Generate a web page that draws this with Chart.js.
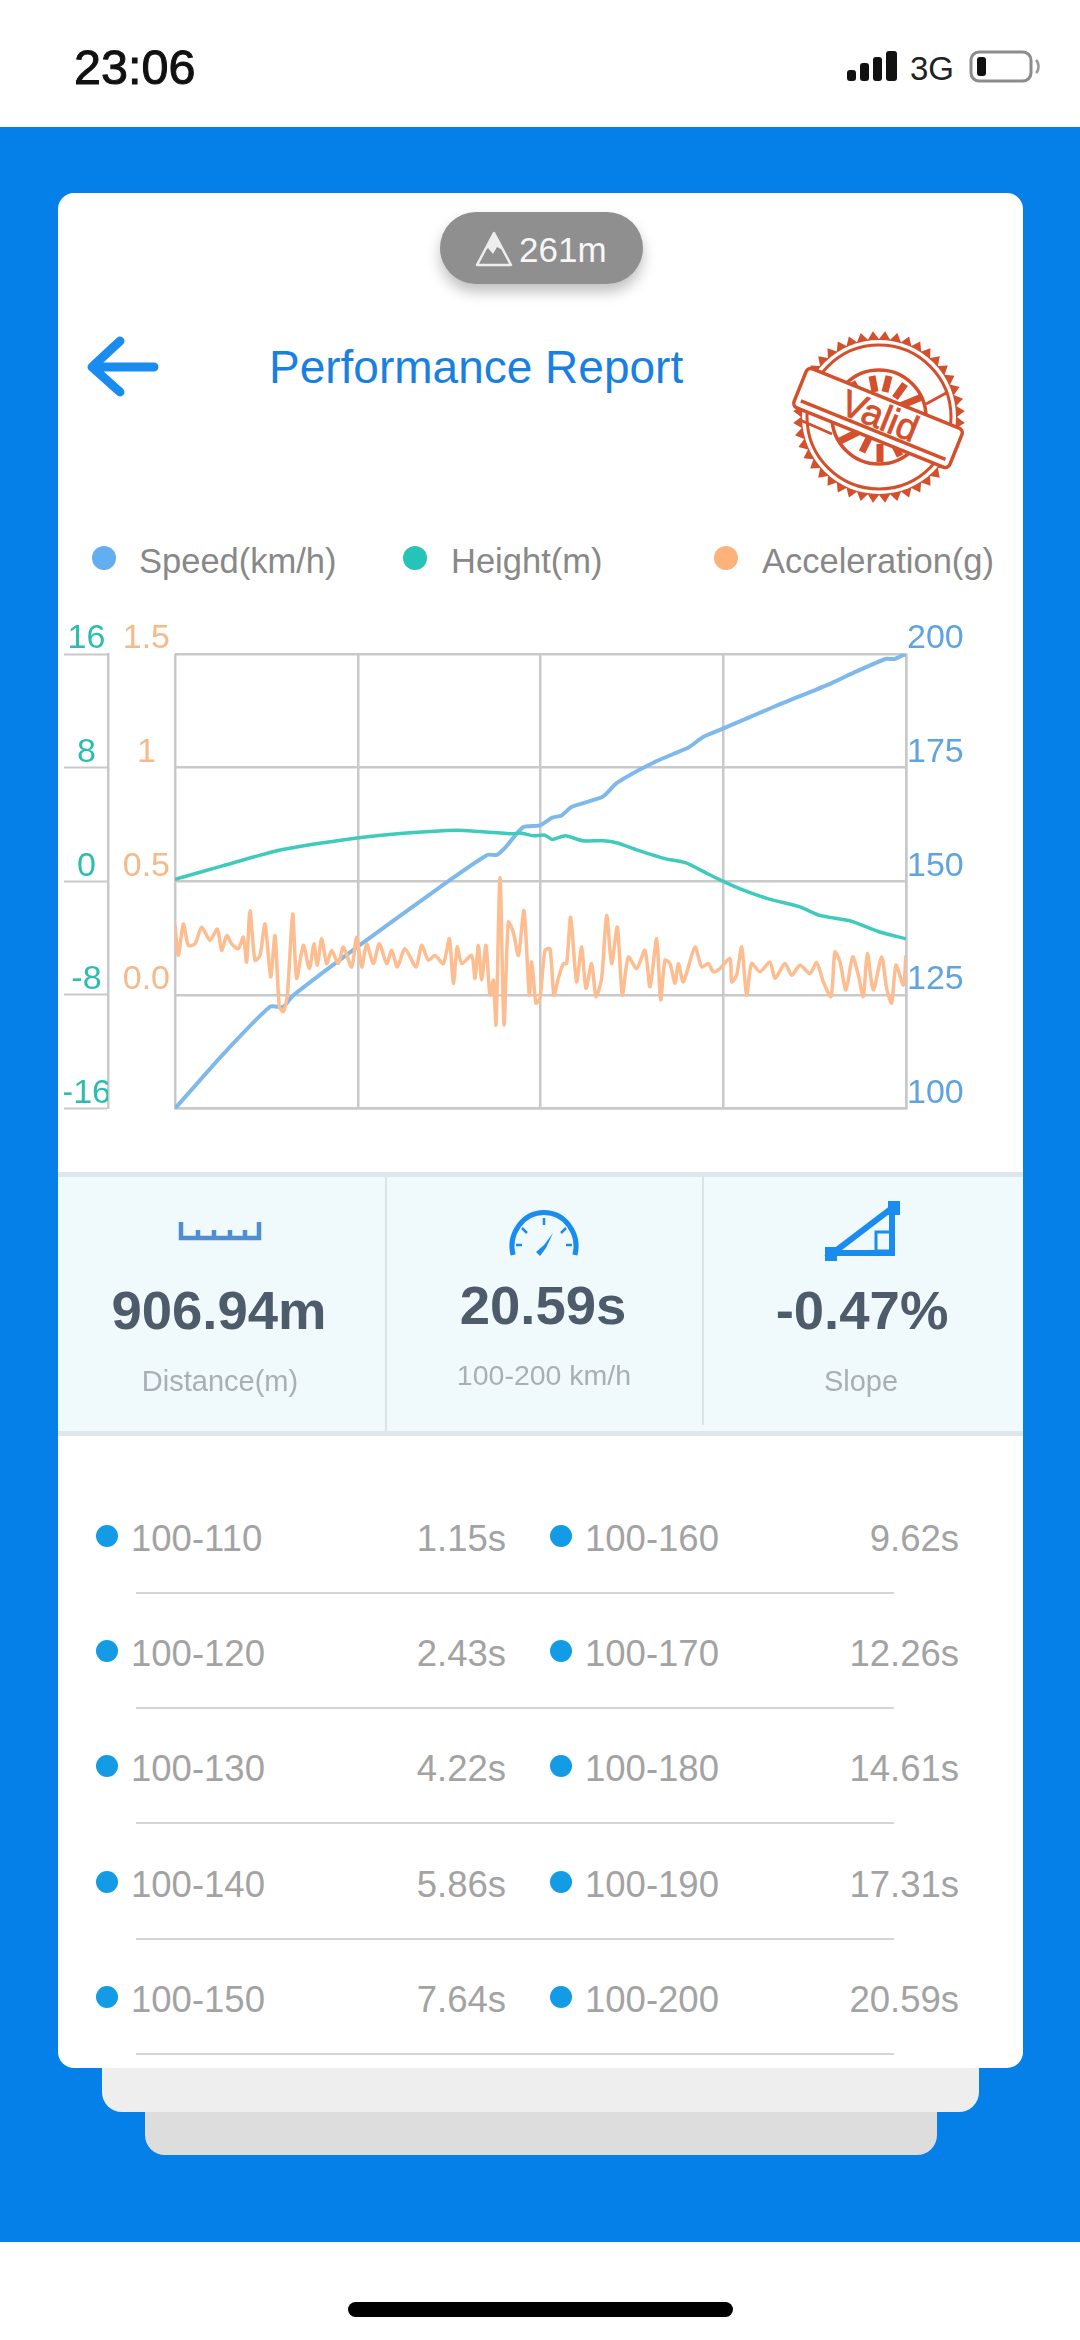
<!DOCTYPE html>
<html>
<head>
<meta charset="utf-8">
<script src="https://cdn.jsdelivr.net/npm/chart.js@4"></script>
<style>
html, body { margin: 0; padding: 0; background: #fff; }
body { width: 1080px; height: 2340px; position: relative; overflow: hidden; font-family: "Liberation Sans", Arial, sans-serif; }
.box { position: absolute; }
.t { position: absolute; white-space: nowrap; line-height: 1; transform: translateY(-50%); }
.c { transform: translate(-50%, -50%); }
.r { transform: translate(-100%, -50%); }
.dot { position: absolute; border-radius: 50%; transform: translate(-50%, -50%); }
svg { position: absolute; overflow: visible; }
</style>
</head>
<body>

<!-- status bar -->
<div class="t" style="left:74px;top:67px;font-size:48.5px;color:#111;-webkit-text-stroke:1px #111">23:06</div>
<svg style="left:0;top:0" width="1080" height="127">
  <rect x="847" y="70" width="9" height="11" rx="3" fill="#111"/>
  <rect x="860" y="63" width="9" height="18" rx="3" fill="#111"/>
  <rect x="873" y="57" width="9" height="24" rx="3" fill="#111"/>
  <rect x="886" y="51" width="11" height="30" rx="3" fill="#111"/>
  <rect x="971" y="52" width="60" height="29" rx="8" fill="#fff" stroke="#8c8c8c" stroke-width="3"/>
  <rect x="977" y="57" width="9" height="19" rx="3" fill="#111"/>
  <path d="M1036 60 a6 8 0 0 1 0 13" fill="none" stroke="#999" stroke-width="2.5"/>
</svg>
<div class="t" style="left:910px;top:68px;font-size:33px;color:#222">3G</div>

<!-- blue background and stacked cards -->
<div class="box" style="left:0;top:127px;width:1080px;height:2115px;background:#0580e8"></div>
<div class="box" style="left:145px;top:2080px;width:792px;height:75px;background:#dddddd;border-radius:0 0 20px 20px"></div>
<div class="box" style="left:102px;top:2040px;width:877px;height:72px;background:#eeeeee;border-radius:0 0 20px 20px"></div>
<div class="box" style="left:58px;top:193px;width:965px;height:1875px;background:#fff;border-radius:16px"></div>

<!-- altitude pill -->
<div class="box" style="left:440px;top:212px;width:203px;height:72px;background:#8f8f8f;border-radius:36px;box-shadow:0 8px 14px rgba(0,0,0,.25)"></div>
<svg style="left:0;top:0" width="1080" height="300">
  <path d="M494 233 L511 265 L477 265 Z" fill="none" stroke="#eee" stroke-width="2.5" stroke-linejoin="round"/>
  <path d="M494 233 L503 250 L497 247 L493 254 L488 248 L485 250 Z" fill="#eee"/>
</svg>
<div class="t" style="left:519px;top:249px;font-size:35px;color:#f6f6f6">261m</div>

<!-- header -->
<svg style="left:0;top:0" width="300" height="420">
  <path d="M120 341 L92 367 L120 392 M94 367 L154 367" fill="none" stroke="#1a8cf0" stroke-width="9" stroke-linecap="round" stroke-linejoin="round"/>
</svg>
<div class="t" style="left:269px;top:367px;font-size:46px;color:#1a80e0">Performance Report</div>

<!-- stamp -->
<svg style="left:0;top:0" width="1080" height="520" fill="none">
  <polygon id="stampTeeth" fill="#d4502c"/>
  <circle cx="879" cy="417" r="77" fill="#fff"/>
  <g stroke="#d4502c">
    <circle cx="879" cy="417" r="72" stroke-width="3"/>
    <circle cx="879" cy="417" r="47" stroke-width="3.5"/>
    <path d="M872 376L875 392M889 376L885 392M905 384L895 398M852 382L862 398M922 397L900 406M838 442L858 432M862 452L869 438M880 462L880 444M900 456L892 440" stroke-width="7"/>
    <path d="M832 434L800 420M926 404L948 392M824 418L850 426M910 440L928 452" stroke-width="3"/>
    <g transform="rotate(22 878 418)">
      <rect x="794" y="397" width="168" height="42" fill="#fff" stroke-width="3.5" rx="5"/>
      <path d="M800 431H956" stroke-width="3.5"/>
    </g>
  </g>
  <text x="879" y="428" text-anchor="middle" transform="rotate(22 878 418)" fill="#d4502c" stroke="#d4502c" stroke-width="0.8" font-size="37" font-family="Liberation Sans">Valid</text>
</svg>

<!-- legend -->
<div class="dot" style="left:104px;top:558px;width:24px;height:24px;background:#62aeef"></div>
<div class="t" style="left:139px;top:561px;font-size:34.5px;color:#888">Speed(km/h)</div>
<div class="dot" style="left:415px;top:558px;width:24px;height:24px;background:#26c4b8"></div>
<div class="t" style="left:451px;top:561px;font-size:34.5px;color:#888">Height(m)</div>
<div class="dot" style="left:726px;top:558px;width:24px;height:24px;background:#fdb27c"></div>
<div class="t" style="left:762px;top:561px;font-size:34.5px;color:#888">Acceleration(g)</div>

<!-- chart -->
<canvas id="reportChart" width="964" height="530" style="position:absolute;left:58px;top:600px;width:964px;height:530px"></canvas>

<!-- stats panel -->
<div class="box" style="left:58px;top:1172px;width:965px;height:264px;background:#f0f9fb;border-top:5px solid #dfe7ea;border-bottom:5px solid #dfe7ea;box-sizing:border-box"></div>
<div class="box" style="left:385px;top:1177px;width:2px;height:255px;background:#d8e4e8"></div>
<div class="box" style="left:702px;top:1177px;width:2px;height:248px;background:#d8e4e8"></div>
<svg style="left:0;top:0" width="1080" height="1300" fill="none">
  <path d="M181 1222V1238H259V1222M198 1230V1238M214 1230V1238M230 1230V1238M245 1230V1238" stroke="#4f8fd0" stroke-width="4.5"/>
  <path d="M513 1255 A32 34 0 1 1 575 1255" stroke="#1a8cf0" stroke-width="5"/>
  <path d="M544 1218V1225M522 1228L527 1233M566 1228L561 1233M516 1245H522M572 1245H566" stroke="#1a8cf0" stroke-width="2.5"/>
  <path d="M553 1233 L546 1248 L540 1256 L536 1252 L544 1245 Z" fill="#1a8cf0"/>
  <path d="M833 1253 L892 1208 L892 1253 Z" stroke="#1a8cf0" stroke-width="6"/>
  <rect x="825" y="1247" width="12" height="14" fill="#1a8cf0"/>
  <rect x="888" y="1201" width="12" height="14" fill="#1a8cf0"/>
  <rect x="876" y="1232" width="16" height="19" stroke="#1a8cf0" stroke-width="3"/>
</svg>
<div class="t c" style="left:219px;top:1311px;font-size:54.5px;font-weight:bold;color:#4d5b6b">906.94m</div>
<div class="t c" style="left:543px;top:1306px;font-size:54.5px;font-weight:bold;color:#4d5b6b">20.59s</div>
<div class="t c" style="left:862px;top:1311px;font-size:54.5px;font-weight:bold;color:#4d5b6b">-0.47%</div>
<div class="t c" style="left:220px;top:1381px;font-size:29px;color:#a9b0b5">Distance(m)</div>
<div class="t c" style="left:544px;top:1375px;font-size:28.5px;color:#a9b0b5">100-200 km/h</div>
<div class="t c" style="left:861px;top:1381px;font-size:29px;color:#a9b0b5">Slope</div>

<!-- split times -->
<div id="splits"></div>

<!-- home bar -->
<div class="box" style="left:348px;top:2302px;width:385px;height:15px;background:#000;border-radius:8px"></div>

<script>
// speed curve, x is % of the run
const speedX = [0, 6.6, 13, 14.8, 16.1, 24.9, 36.3, 42.7, 44, 45.1, 47.6, 49.9, 51.6, 52.9, 54.3, 58.5, 60.5, 65.7, 70.3, 72.2, 74.7, 82.1, 89.7, 93, 97.2, 98.4, 100];
const speedValues = [100, 112, 122.4, 122.4, 124.8, 135.5, 148.8, 155.8, 155.8, 157.3, 161.9, 162.3, 164, 164.5, 166.4, 168.6, 171.7, 176.3, 179.5, 181.7, 183.4, 188.5, 193.5, 196, 198.9, 198.9, 200];

// height curve
const heightX = [0, 6.6, 14.4, 24.9, 31.7, 38.6, 41.7, 46.2, 47.3, 49, 50.6, 51.6, 53.4, 55.8, 58.6, 60.5, 63.3, 67, 69.9, 72.8, 74.7, 77.4, 81.3, 85.5, 88.2, 92.5, 96.3, 100];
const heightValues = [0.14, 1.1, 2.2, 3.05, 3.4, 3.6, 3.5, 3.35, 3.4, 3.2, 3.25, 2.95, 3.2, 2.85, 2.85, 2.7, 2.2, 1.6, 1.3, 0.55, 0.07, -0.55, -1.25, -1.8, -2.4, -2.8, -3.55, -4.05];

// acceleration trace, read peak by peak
const accelX = [0, 0.46, 1.14, 1.82, 2.74, 3.65, 4.79, 5.79, 6.38, 7.07, 7.75, 8.66, 9.35, 9.8, 10.26, 10.94, 11.63, 12.31, 13.09, 13.68, 14.27, 14.82, 15.37, 16.1, 16.64, 17.56, 18.38, 19.01, 19.47, 20.06, 20.75, 21.43, 22.34, 23.03, 24.17, 24.85, 25.54, 26.22, 27.13, 27.95, 28.96, 29.64, 30.42, 31.46, 32.97, 33.74, 34.66, 35.57, 36.71, 37.53, 38.08, 38.62, 39.22, 40.58, 41.04, 41.5, 41.95, 42.54, 43.09, 43.55, 43.91, 44.46, 45.01, 45.6, 46.28, 46.97, 47.74, 48.47, 48.79, 49.38, 49.93, 50.61, 51.3, 51.84, 52.44, 53.12, 53.58, 54.12, 54.94, 55.63, 56.22, 57, 57.59, 58.36, 59.05, 59.73, 60.51, 61.19, 62.01, 63.15, 64.29, 64.98, 65.89, 66.44, 67.03, 67.71, 68.4, 68.85, 69.54, 71.13, 72.04, 72.96, 73.64, 74.55, 75.92, 76.15, 76.83, 77.52, 78.2, 78.88, 80.02, 81.39, 82.08, 83.44, 84.36, 85.5, 86.86, 87.78, 88.69, 89.74, 90.28, 90.97, 91.79, 92.7, 93.48, 94.16, 94.71, 95.53, 96.67, 97.35, 98.03, 98.63, 99.63, 100];
const accelValues = [0.305, 0.174, 0.312, 0.218, 0.225, 0.298, 0.24, 0.29, 0.196, 0.261, 0.225, 0.203, 0.254, 0.145, 0.37, 0.153, 0.174, 0.312, 0.08, 0.261, -0.051, -0.073, 0, 0.356, 0.073, 0.218, 0.116, 0.225, 0.131, 0.247, 0.138, 0.196, 0.138, 0.211, 0.123, 0.254, 0.123, 0.225, 0.138, 0.225, 0.138, 0.196, 0.123, 0.203, 0.123, 0.218, 0.153, 0.174, 0.138, 0.247, 0.051, 0.211, 0.138, 0.174, 0.073, 0.218, 0.065, 0.218, 0, 0.065, -0.131, 0.516, -0.131, 0.32, 0.276, 0.174, 0.37, 0, 0.145, -0.036, -0.015, 0.196, 0.203, 0, 0.073, 0.138, 0.138, 0.341, 0.058, 0.211, 0.029, 0.138, -0.007, 0.073, 0.349, 0.138, 0.298, 0, 0.167, 0.116, 0.196, 0.036, 0.247, -0.022, 0.153, 0.138, 0.051, 0.138, 0.058, 0.211, 0.123, 0.138, 0.102, 0.116, 0.16, 0.058, 0.087, 0.211, 0, 0.138, 0.102, 0.145, 0.073, 0.138, 0.087, 0.131, 0.094, 0.142, 0.058, -0.007, 0.189, 0.145, 0.022, 0.167, 0.087, -0.007, 0.182, 0.022, 0.167, 0.029, -0.036, 0.131, 0.044, 0.174];

// axis ticks
const speedTicks = [200, 175, 150, 125, 100];
const heightTicks = [16, 8, 0, -8, -16];
const accelTicks = [1.5, 1, 0.5, 0, -0.5];
const accelTickLabels = ['1.5', '1', '0.5', '0.0', ''];
const xGridTicks = [0, 25, 50, 75, 100];

// split table
const splitLeftLabels = ['100-110', '100-120', '100-130', '100-140', '100-150'];
const splitLeftTimes = ['1.15s', '2.43s', '4.22s', '5.86s', '7.64s'];
const splitRightLabels = ['100-160', '100-170', '100-180', '100-190', '100-200'];
const splitRightTimes = ['9.62s', '12.26s', '14.61s', '17.31s', '20.59s'];

const GRID = '#c9c9c9';
const FONT = { family: '"Liberation Sans", Arial, sans-serif', size: 34 };

function toPoints(xs, ys) {
    return xs.map((x, i) => ({ x: x, y: ys[i] }));
}
function fixWidth(w) {
    return axis => { axis.width = w; };
}
function setTicks(values) {
    return axis => { axis.ticks = values.map(v => ({ value: v })); };
}

new Chart(document.getElementById('reportChart'), {
    type: 'line',
    data: {
        datasets: [
            { label: 'Acceleration(g)', data: toPoints(accelX, accelValues), yAxisID: 'yAccel', borderColor: '#fdbd90', borderWidth: 3.5, tension: 0.25 },
            { label: 'Height(m)', data: toPoints(heightX, heightValues), yAxisID: 'yHeight', borderColor: '#3ecbbb', borderWidth: 3.5, tension: 0.2 },
            { label: 'Speed(km/h)', data: toPoints(speedX, speedValues), yAxisID: 'ySpeed', borderColor: '#7fb8ea', borderWidth: 4, tension: 0.2 }
        ]
    },
    options: {
        responsive: false,
        animation: false,
        elements: { point: { radius: 0 } },
        layout: { autoPadding: false, padding: { left: 6, right: 0, top: 54, bottom: 13 } },
        plugins: { legend: { display: false }, tooltip: { enabled: false } },
        scales: {
            x: {
                type: 'linear', min: 0, max: 100,
                afterBuildTicks: setTicks(xGridTicks),
                ticks: { display: false },
                grid: { color: GRID, lineWidth: 2.5, drawTicks: false },
                border: { color: GRID, width: 2.5 }
            },
            ySpeed: {
                position: 'right', min: 100, max: 200,
                afterBuildTicks: setTicks(speedTicks),
                afterFit: fixWidth(116),
                ticks: { color: '#5fa3df', font: FONT, padding: 1, labelOffset: -15 },
                grid: { color: GRID, lineWidth: 2.5, drawTicks: false },
                border: { color: GRID, width: 2.5 }
            },
            yAccel: {
                position: 'left', weight: 1, min: -0.5, max: 1.5,
                afterBuildTicks: setTicks(accelTicks),
                afterFit: fixWidth(67),
                ticks: {
                    color: '#f5b98a', font: FONT, padding: -3, labelOffset: -15, crossAlign: 'center',
                    callback: v => accelTickLabels[accelTicks.indexOf(v)]
                },
                grid: { display: false },
                border: { display: false }
            },
            yHeight: {
                position: 'left', weight: 2, min: -16, max: 16,
                afterBuildTicks: setTicks(heightTicks),
                afterFit: fixWidth(44),
                ticks: { color: '#2dbdb0', font: FONT, padding: -47, labelOffset: -15, crossAlign: 'center' },
                grid: { drawOnChartArea: false, drawTicks: true, tickLength: 44, tickColor: GRID, tickWidth: 2 },
                border: { color: GRID, width: 2.5 }
            }
        }
    }
});

// serrated stamp edge
const teeth = [];
for (let i = 0; i < 88; i++) {
    const a = i * Math.PI / 44;
    const r = i % 2 ? 86 : 78;
    teeth.push((879 + r * Math.cos(a)).toFixed(1) + ',' + (417 + r * Math.sin(a)).toFixed(1));
}
document.getElementById('stampTeeth').setAttribute('points', teeth.join(' '));

// split rows
const splitRowCentres = [1539, 1654, 1769, 1885, 2000];
const splitHost = document.getElementById('splits');
let html = '';
splitRowCentres.forEach((y, i) => {
    html += `<div class="dot" style="left:107px;top:${y - 3}px;width:22px;height:22px;background:#149be6"></div>`;
    html += `<div class="t" style="left:131px;top:${y}px;font-size:36.5px;color:#a3a3a3">${splitLeftLabels[i]}</div>`;
    html += `<div class="t r" style="left:506px;top:${y}px;font-size:36.5px;color:#a3a3a3">${splitLeftTimes[i]}</div>`;
    html += `<div class="dot" style="left:561px;top:${y - 3}px;width:22px;height:22px;background:#149be6"></div>`;
    html += `<div class="t" style="left:585px;top:${y}px;font-size:36.5px;color:#a3a3a3">${splitRightLabels[i]}</div>`;
    html += `<div class="t r" style="left:959px;top:${y}px;font-size:36.5px;color:#a3a3a3">${splitRightTimes[i]}</div>`;
    html += `<div class="box" style="left:136px;top:${y + 53}px;width:758px;height:2px;background:#d5d5d5"></div>`;
});
splitHost.innerHTML = html;
</script>
</body>
</html>
